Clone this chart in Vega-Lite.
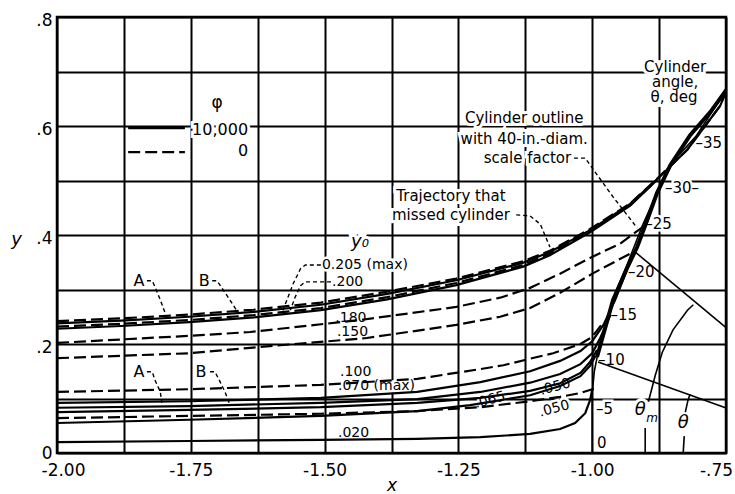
{
"$schema": "https://vega.github.io/schema/vega-lite/v6.json",
"width": 669, "height": 436,
"autosize": {"type": "none"},
"padding": {"left": 57, "top": 17, "right": 9, "bottom": 41},
"background": "white",
"config": {"view": {"stroke": "black", "strokeWidth": 2.5}, "font": "DejaVu Sans"},
"datasets": {
"lines": [
{"s":"B1","k":"dash","o":0,"x":-2.000,"y":0.242},{"s":"B1","k":"dash","o":1,"x":-1.880,"y":0.247},{"s":"B1","k":"dash","o":2,"x":-1.753,"y":0.254},{"s":"B1","k":"dash","o":3,"x":-1.632,"y":0.263},{"s":"B1","k":"dash","o":4,"x":-1.507,"y":0.276},{"s":"B1","k":"dash","o":5,"x":-1.383,"y":0.296},{"s":"B1","k":"dash","o":6,"x":-1.254,"y":0.320},{"s":"B1","k":"dash","o":7,"x":-1.129,"y":0.352},{"s":"B1","k":"dash","o":8,"x":-1.079,"y":0.371},{"s":"B1","k":"dash","o":9,"x":-1.004,"y":0.411},{"s":"B1","k":"dash","o":10,"x":-0.929,"y":0.458},{"s":"B1","k":"dash","o":11,"x":-0.879,"y":0.503},{"s":"B1","k":"dash","o":12,"x":-0.822,"y":0.557},{"s":"B1","k":"dash","o":13,"x":-0.761,"y":0.637},{"s":"B1","k":"dash","o":14,"x":-0.748,"y":0.668},
{"s":"B2","k":"solid","o":0,"x":-2.000,"y":0.238},{"s":"B2","k":"solid","o":1,"x":-1.880,"y":0.243},{"s":"B2","k":"solid","o":2,"x":-1.753,"y":0.250},{"s":"B2","k":"solid","o":3,"x":-1.632,"y":0.259},{"s":"B2","k":"solid","o":4,"x":-1.507,"y":0.272},{"s":"B2","k":"solid","o":5,"x":-1.383,"y":0.292},{"s":"B2","k":"solid","o":6,"x":-1.254,"y":0.317},{"s":"B2","k":"solid","o":7,"x":-1.129,"y":0.349},{"s":"B2","k":"solid","o":8,"x":-1.079,"y":0.369},{"s":"B2","k":"solid","o":9,"x":-1.004,"y":0.409},{"s":"B2","k":"solid","o":10,"x":-0.929,"y":0.457},{"s":"B2","k":"solid","o":11,"x":-0.879,"y":0.502},{"s":"B2","k":"solid","o":12,"x":-0.822,"y":0.557},{"s":"B2","k":"solid","o":13,"x":-0.761,"y":0.637},{"s":"B2","k":"solid","o":14,"x":-0.748,"y":0.668},
{"s":"B3","k":"dash","o":0,"x":-2.000,"y":0.232},{"s":"B3","k":"dash","o":1,"x":-1.880,"y":0.237},{"s":"B3","k":"dash","o":2,"x":-1.753,"y":0.244},{"s":"B3","k":"dash","o":3,"x":-1.632,"y":0.253},{"s":"B3","k":"dash","o":4,"x":-1.507,"y":0.266},{"s":"B3","k":"dash","o":5,"x":-1.383,"y":0.286},{"s":"B3","k":"dash","o":6,"x":-1.254,"y":0.312},{"s":"B3","k":"dash","o":7,"x":-1.129,"y":0.345},{"s":"B3","k":"dash","o":8,"x":-1.079,"y":0.366},{"s":"B3","k":"dash","o":9,"x":-1.004,"y":0.407},{"s":"B3","k":"dash","o":10,"x":-0.929,"y":0.455},{"s":"B3","k":"dash","o":11,"x":-0.879,"y":0.501},
{"s":"B4","k":"solid","o":0,"x":-2.000,"y":0.228},{"s":"B4","k":"solid","o":1,"x":-1.880,"y":0.233},{"s":"B4","k":"solid","o":2,"x":-1.753,"y":0.240},{"s":"B4","k":"solid","o":3,"x":-1.632,"y":0.249},{"s":"B4","k":"solid","o":4,"x":-1.507,"y":0.262},{"s":"B4","k":"solid","o":5,"x":-1.383,"y":0.282},{"s":"B4","k":"solid","o":6,"x":-1.254,"y":0.308},{"s":"B4","k":"solid","o":7,"x":-1.129,"y":0.342},{"s":"B4","k":"solid","o":8,"x":-1.079,"y":0.363},{"s":"B4","k":"solid","o":9,"x":-1.004,"y":0.405},{"s":"B4","k":"solid","o":10,"x":-0.929,"y":0.454},{"s":"B4","k":"solid","o":11,"x":-0.879,"y":0.501},
{"s":"D180","k":"dash","o":0,"x":-2.000,"y":0.202},{"s":"D180","k":"dash","o":1,"x":-1.753,"y":0.215},{"s":"D180","k":"dash","o":2,"x":-1.639,"y":0.222},{"s":"D180","k":"dash","o":3,"x":-1.434,"y":0.244},{"s":"D180","k":"dash","o":4,"x":-1.254,"y":0.268},{"s":"D180","k":"dash","o":5,"x":-1.172,"y":0.285},{"s":"D180","k":"dash","o":6,"x":-1.116,"y":0.303},{"s":"D180","k":"dash","o":7,"x":-1.060,"y":0.329},{"s":"D180","k":"dash","o":8,"x":-1.004,"y":0.358},{"s":"D180","k":"dash","o":9,"x":-0.948,"y":0.384},{"s":"D180","k":"dash","o":10,"x":-0.905,"y":0.415},
{"s":"D150","k":"dash","o":0,"x":-2.000,"y":0.174},{"s":"D150","k":"dash","o":1,"x":-1.753,"y":0.183},{"s":"D150","k":"dash","o":2,"x":-1.639,"y":0.193},{"s":"D150","k":"dash","o":3,"x":-1.421,"y":0.211},{"s":"D150","k":"dash","o":4,"x":-1.254,"y":0.235},{"s":"D150","k":"dash","o":5,"x":-1.172,"y":0.250},{"s":"D150","k":"dash","o":6,"x":-1.116,"y":0.266},{"s":"D150","k":"dash","o":7,"x":-1.060,"y":0.294},{"s":"D150","k":"dash","o":8,"x":-0.998,"y":0.330},{"s":"D150","k":"dash","o":9,"x":-0.921,"y":0.370},
{"s":"D100","k":"dash","o":0,"x":-2.000,"y":0.112},{"s":"D100","k":"dash","o":1,"x":-1.753,"y":0.117},{"s":"D100","k":"dash","o":2,"x":-1.507,"y":0.125},{"s":"D100","k":"dash","o":3,"x":-1.327,"y":0.136},{"s":"D100","k":"dash","o":4,"x":-1.209,"y":0.154},{"s":"D100","k":"dash","o":5,"x":-1.166,"y":0.161},{"s":"D100","k":"dash","o":6,"x":-1.116,"y":0.173},{"s":"D100","k":"dash","o":7,"x":-1.073,"y":0.183},{"s":"D100","k":"dash","o":8,"x":-1.022,"y":0.200},{"s":"D100","k":"dash","o":9,"x":-1.000,"y":0.213},{"s":"D100","k":"dash","o":10,"x":-0.983,"y":0.235},
{"s":"S070","k":"solid","o":0,"x":-2.000,"y":0.092},{"s":"S070","k":"solid","o":1,"x":-1.753,"y":0.095},{"s":"S070","k":"solid","o":2,"x":-1.507,"y":0.101},{"s":"S070","k":"solid","o":3,"x":-1.327,"y":0.112},{"s":"S070","k":"solid","o":4,"x":-1.209,"y":0.130},{"s":"S070","k":"solid","o":5,"x":-1.116,"y":0.150},{"s":"S070","k":"solid","o":6,"x":-1.060,"y":0.169},{"s":"S070","k":"solid","o":7,"x":-1.022,"y":0.187},{"s":"S070","k":"solid","o":8,"x":-1.000,"y":0.205},{"s":"S070","k":"solid","o":9,"x":-0.979,"y":0.235},{"s":"S070","k":"solid","o":10,"x":-0.957,"y":0.281},{"s":"S070","k":"solid","o":11,"x":-0.935,"y":0.336},
{"s":"S2","k":"solid","o":0,"x":-2.000,"y":0.083},{"s":"S2","k":"solid","o":1,"x":-1.753,"y":0.086},{"s":"S2","k":"solid","o":2,"x":-1.507,"y":0.092},{"s":"S2","k":"solid","o":3,"x":-1.327,"y":0.099},{"s":"S2","k":"solid","o":4,"x":-1.209,"y":0.112},{"s":"S2","k":"solid","o":5,"x":-1.116,"y":0.129},{"s":"S2","k":"solid","o":6,"x":-1.060,"y":0.145},{"s":"S2","k":"solid","o":7,"x":-1.022,"y":0.163},{"s":"S2","k":"solid","o":8,"x":-1.000,"y":0.183},{"s":"S2","k":"solid","o":9,"x":-0.985,"y":0.211},{"s":"S2","k":"solid","o":10,"x":-0.966,"y":0.253},
{"s":"S065","k":"solid","o":0,"x":-2.000,"y":0.075},{"s":"S065","k":"solid","o":1,"x":-1.753,"y":0.079},{"s":"S065","k":"solid","o":2,"x":-1.507,"y":0.084},{"s":"S065","k":"solid","o":3,"x":-1.327,"y":0.092},{"s":"S065","k":"solid","o":4,"x":-1.209,"y":0.101},{"s":"S065","k":"solid","o":5,"x":-1.116,"y":0.114},{"s":"S065","k":"solid","o":6,"x":-1.060,"y":0.128},{"s":"S065","k":"solid","o":7,"x":-1.022,"y":0.147},{"s":"S065","k":"solid","o":8,"x":-1.004,"y":0.167},{"s":"S065","k":"solid","o":9,"x":-0.991,"y":0.189},
{"s":"S050","k":"solid","o":0,"x":-2.000,"y":0.055},{"s":"S050","k":"solid","o":1,"x":-1.753,"y":0.061},{"s":"S050","k":"solid","o":2,"x":-1.507,"y":0.068},{"s":"S050","k":"solid","o":3,"x":-1.327,"y":0.077},{"s":"S050","k":"solid","o":4,"x":-1.228,"y":0.088},{"s":"S050","k":"solid","o":5,"x":-1.116,"y":0.106},{"s":"S050","k":"solid","o":6,"x":-1.060,"y":0.123},{"s":"S050","k":"solid","o":7,"x":-1.022,"y":0.141},{"s":"S050","k":"solid","o":8,"x":-1.004,"y":0.160},{"s":"S050","k":"solid","o":9,"x":-0.994,"y":0.178},
{"s":"D050","k":"dash","o":0,"x":-2.000,"y":0.064},{"s":"D050","k":"dash","o":1,"x":-1.753,"y":0.068},{"s":"D050","k":"dash","o":2,"x":-1.507,"y":0.072},{"s":"D050","k":"dash","o":3,"x":-1.327,"y":0.077},{"s":"D050","k":"dash","o":4,"x":-1.209,"y":0.084},{"s":"D050","k":"dash","o":5,"x":-1.116,"y":0.095},{"s":"D050","k":"dash","o":6,"x":-1.060,"y":0.103},{"s":"D050","k":"dash","o":7,"x":-1.022,"y":0.110},{"s":"D050","k":"dash","o":8,"x":-0.997,"y":0.118},
{"s":"S020","k":"solid","o":0,"x":-2.000,"y":0.020},{"s":"S020","k":"solid","o":1,"x":-1.753,"y":0.022},{"s":"S020","k":"solid","o":2,"x":-1.507,"y":0.024},{"s":"S020","k":"solid","o":3,"x":-1.327,"y":0.026},{"s":"S020","k":"solid","o":4,"x":-1.209,"y":0.029},{"s":"S020","k":"solid","o":5,"x":-1.116,"y":0.035},{"s":"S020","k":"solid","o":6,"x":-1.060,"y":0.044},{"s":"S020","k":"solid","o":7,"x":-1.032,"y":0.055},{"s":"S020","k":"solid","o":8,"x":-1.013,"y":0.073},{"s":"S020","k":"solid","o":9,"x":-1.004,"y":0.097},{"s":"S020","k":"solid","o":10,"x":-1.000,"y":0.116},
{"s":"LS","k":"solid","o":0,"x":-1.867,"y":0.596},{"s":"LS","k":"solid","o":1,"x":-1.761,"y":0.596},
{"s":"LD","k":"dash","o":0,"x":-1.867,"y":0.552},{"s":"LD","k":"dash","o":1,"x":-1.761,"y":0.552},
{"s":"C","k":"thin","o":0,"x":-1.000,"y":0.000},{"s":"C","k":"thin","o":1,"x":-1.000,"y":0.110},{"s":"C","k":"thin","o":2,"x":-0.996,"y":0.150},{"s":"C","k":"thin","o":3,"x":-0.990,"y":0.180},{"s":"C","k":"thin","o":4,"x":-0.976,"y":0.232},{"s":"C","k":"thin","o":5,"x":-0.957,"y":0.292},{"s":"C","k":"thin","o":6,"x":-0.935,"y":0.345},{"s":"C","k":"thin","o":7,"x":-0.906,"y":0.418},{"s":"C","k":"thin","o":8,"x":-0.879,"y":0.477},{"s":"C","k":"thin","o":9,"x":-0.849,"y":0.535},{"s":"C","k":"thin","o":10,"x":-0.807,"y":0.580},{"s":"C","k":"thin","o":11,"x":-0.780,"y":0.620},{"s":"C","k":"thin","o":12,"x":-0.748,"y":0.668},
{"s":"R1","k":"thin","o":0,"x":-0.989,"y":0.167},{"s":"R1","k":"thin","o":1,"x":-0.751,"y":0.083},
{"s":"R2","k":"thin","o":0,"x":-0.920,"y":0.369},{"s":"R2","k":"thin","o":1,"x":-0.751,"y":0.231},
{"s":"A1","k":"thin","o":0,"x":-0.901,"y":0.000},{"s":"A1","k":"thin","o":1,"x":-0.901,"y":0.046},
{"s":"A2","k":"thin","o":0,"x":-0.895,"y":0.094},{"s":"A2","k":"thin","o":1,"x":-0.882,"y":0.143},{"s":"A2","k":"thin","o":2,"x":-0.869,"y":0.185},{"s":"A2","k":"thin","o":3,"x":-0.849,"y":0.226},{"s":"A2","k":"thin","o":4,"x":-0.822,"y":0.262},{"s":"A2","k":"thin","o":5,"x":-0.811,"y":0.272},
{"s":"A3","k":"thin","o":0,"x":-0.830,"y":0.000},{"s":"A3","k":"thin","o":1,"x":-0.828,"y":0.031},
{"s":"A4","k":"thin","o":0,"x":-0.826,"y":0.075},{"s":"A4","k":"thin","o":1,"x":-0.821,"y":0.097},{"s":"A4","k":"thin","o":2,"x":-0.817,"y":0.108},
{"s":"T","k":"thick","o":0,"x":-0.991,"y":0.176},{"s":"T","k":"thick","o":1,"x":-0.961,"y":0.281},{"s":"T","k":"thick","o":2,"x":-0.935,"y":0.339},{"s":"T","k":"thick","o":3,"x":-0.916,"y":0.378},{"s":"T","k":"thick","o":4,"x":-0.897,"y":0.428},{"s":"T","k":"thick","o":5,"x":-0.879,"y":0.477},{"s":"T","k":"thick","o":6,"x":-0.854,"y":0.528},{"s":"T","k":"thick","o":7,"x":-0.817,"y":0.583},{"s":"T","k":"thick","o":8,"x":-0.779,"y":0.626},{"s":"T","k":"thick","o":9,"x":-0.748,"y":0.668},
{"s":"LA1","k":"lead","o":0,"x":-1.832,"y":0.316},{"s":"LA1","k":"lead","o":1,"x":-1.822,"y":0.316},{"s":"LA1","k":"lead","o":2,"x":-1.817,"y":0.305},{"s":"LA1","k":"lead","o":3,"x":-1.807,"y":0.281},{"s":"LA1","k":"lead","o":4,"x":-1.798,"y":0.257},
{"s":"LB1","k":"lead","o":0,"x":-1.710,"y":0.316},{"s":"LB1","k":"lead","o":1,"x":-1.701,"y":0.316},{"s":"LB1","k":"lead","o":2,"x":-1.692,"y":0.303},{"s":"LB1","k":"lead","o":3,"x":-1.677,"y":0.281},{"s":"LB1","k":"lead","o":4,"x":-1.664,"y":0.261},
{"s":"LA2","k":"lead","o":0,"x":-1.832,"y":0.149},{"s":"LA2","k":"lead","o":1,"x":-1.822,"y":0.149},{"s":"LA2","k":"lead","o":2,"x":-1.817,"y":0.134},{"s":"LA2","k":"lead","o":3,"x":-1.807,"y":0.112},{"s":"LA2","k":"lead","o":4,"x":-1.804,"y":0.092},
{"s":"LB2","k":"lead","o":0,"x":-1.714,"y":0.149},{"s":"LB2","k":"lead","o":1,"x":-1.705,"y":0.149},{"s":"LB2","k":"lead","o":2,"x":-1.699,"y":0.138},{"s":"LB2","k":"lead","o":3,"x":-1.686,"y":0.112},{"s":"LB2","k":"lead","o":4,"x":-1.677,"y":0.088},
{"s":"L205","k":"lead","o":0,"x":-1.507,"y":0.345},{"s":"L205","k":"lead","o":1,"x":-1.536,"y":0.345},{"s":"L205","k":"lead","o":2,"x":-1.545,"y":0.338},{"s":"L205","k":"lead","o":3,"x":-1.559,"y":0.310},{"s":"L205","k":"lead","o":4,"x":-1.579,"y":0.259},
{"s":"L200","k":"lead","o":0,"x":-1.488,"y":0.314},{"s":"L200","k":"lead","o":1,"x":-1.536,"y":0.314},{"s":"L200","k":"lead","o":2,"x":-1.545,"y":0.307},{"s":"L200","k":"lead","o":3,"x":-1.555,"y":0.286},{"s":"L200","k":"lead","o":4,"x":-1.564,"y":0.262},
{"s":"LCY","k":"lead","o":0,"x":-1.034,"y":0.541},{"s":"LCY","k":"lead","o":1,"x":-1.013,"y":0.541},{"s":"LCY","k":"lead","o":2,"x":-1.000,"y":0.523},{"s":"LCY","k":"lead","o":3,"x":-0.961,"y":0.470},{"s":"LCY","k":"lead","o":4,"x":-0.916,"y":0.413},
{"s":"LTR","k":"lead","o":0,"x":-1.142,"y":0.437},{"s":"LTR","k":"lead","o":1,"x":-1.116,"y":0.435},{"s":"LTR","k":"lead","o":2,"x":-1.097,"y":0.420},{"s":"LTR","k":"lead","o":3,"x":-1.079,"y":0.378}
],
"labels": [
{"g":"ann","t":"Cylinder","x":-0.845,"y":0.708},{"g":"ann","t":"angle,","x":-0.845,"y":0.680},{"g":"ann","t":"θ, deg","x":-0.847,"y":0.654},
{"g":"ann","t":"Cylinder outline","x":-1.127,"y":0.615},{"g":"ann","t":"with 40-in.-diam.","x":-1.127,"y":0.576},{"g":"ann","t":"scale factor","x":-1.121,"y":0.541},
{"g":"ann","t":"Trajectory that","x":-1.264,"y":0.472},{"g":"ann","t":"missed cylinder","x":-1.264,"y":0.437},
{"g":"num","t":"0.205 (max)","x":-1.505,"y":0.345},{"g":"num","t":".200","x":-1.486,"y":0.314},{"g":"num","t":".180","x":-1.480,"y":0.248},{"g":"num","t":".150","x":-1.477,"y":0.222},{"g":"num","t":".100","x":-1.471,"y":0.149},{"g":"num","t":".070 (max)","x":-1.475,"y":0.123},{"g":"num","t":".020","x":-1.475,"y":0.037},
{"g":"rot","t":".065","x":-1.191,"y":0.097},{"g":"rot","t":".050","x":-1.069,"y":0.121},{"g":"rot","t":".050","x":-1.071,"y":0.081},
{"g":"ang","t":"–5","x":-0.993,"y":0.081},{"g":"ang","t":"–10","x":-0.989,"y":0.171},{"g":"ang","t":"–15","x":-0.966,"y":0.253},{"g":"ang","t":"–20","x":-0.933,"y":0.333},{"g":"ang","t":"–25","x":-0.901,"y":0.420},{"g":"ang","t":"–30–","x":-0.864,"y":0.486},{"g":"ang","t":"–35","x":-0.807,"y":0.569},{"g":"ang","t":"0","x":-0.991,"y":0.018},
{"g":"leg","t":"10,000","x":-1.643,"y":0.593},{"g":"leg","t":"0","x":-1.643,"y":0.554},
{"g":"legc","t":"φ","x":-1.701,"y":0.642},
{"g":"ital","t":"y₀","x":-1.434,"y":0.387},{"g":"ital","t":"θ","x":-0.830,"y":0.055},{"g":"ital","t":"θ","x":-0.910,"y":0.079},
{"g":"sub","t":"m","x":-0.888,"y":0.064},
{"g":"AB","t":"A","x":-1.847,"y":0.316},{"g":"AB","t":"B","x":-1.725,"y":0.316},{"g":"AB","t":"A","x":-1.847,"y":0.149},{"g":"AB","t":"B","x":-1.731,"y":0.149}
]
},
"encoding": {
"x": {"field": "x", "type": "quantitative",
 "scale": {"domain": [-2, -0.75], "nice": false, "zero": false},
 "axis": {"values": [-2,-1.875,-1.75,-1.625,-1.5,-1.375,-1.25,-1.125,-1,-0.875,-0.75],
  "labelExpr": "datum.value > -0.76 ? '-.75' : (abs(datum.value*4 - round(datum.value*4)) < 0.01 ? '-' + format(abs(datum.value), '.2f') : '')",
  "grid": true, "gridColor": "black", "gridWidth": 2, "gridOpacity": 1,
  "domain": false, "ticks": false, "labelFontSize": 17, "labelColor": "black", "labelPadding": 9,
  "labelFlush": false, "labelOverlap": false,
  "labelOffset": {"condition": [{"test": "datum.value > -0.76", "value": -10}, {"test": "datum.value < -1.99", "value": 6}], "value": 0},
  "title": "x", "titleFontStyle": "italic", "titleFontWeight": "normal", "titleFontSize": 17, "titleColor": "black", "titlePadding": -1}},
"y": {"field": "y", "type": "quantitative",
 "scale": {"domain": [0, 0.8], "nice": false, "zero": false},
 "axis": {"values": [0,0.1,0.2,0.3,0.4,0.5,0.6,0.7,0.8],
  "labelExpr": "datum.value < 0.01 ? '0' : (round(datum.value*10) % 2 == 0 ? '.' + round(datum.value*10) : '')",
  "grid": true, "gridColor": "black", "gridWidth": 2, "gridOpacity": 1,
  "domain": false, "ticks": false, "labelFontSize": 17, "labelColor": "black", "labelPadding": 5,
  "labelOffset": {"condition": {"test": "datum.value < 0.01", "value": 0}, "value": 3},
  "labelOverlap": false, "labelFlush": false,
  "title": "y", "titleAngle": 0, "titleFontStyle": "italic", "titleFontWeight": "normal", "titleFontSize": 18, "titleColor": "black",
  "titleX": -41, "titleY": 222, "titleAlign": "center", "titleBaseline": "middle"}}
},
"layer": [
{"data": {"name": "labels"}, "transform": [{"filter": "datum.g == 'ann'"}], "mark": {"type": "text", "align": "center", "baseline": "middle", "fontSize": 15, "color": "white", "stroke": "white", "strokeWidth": 6}, "encoding": {"text": {"field": "t"}}},
{"data": {"name": "labels"}, "transform": [{"filter": "datum.g == 'num'"}], "mark": {"type": "text", "align": "left", "baseline": "middle", "fontSize": 14, "color": "white", "stroke": "white", "strokeWidth": 5}, "encoding": {"text": {"field": "t"}}},
{"data": {"name": "labels"}, "transform": [{"filter": "datum.g == 'rot'"}], "mark": {"type": "text", "align": "center", "baseline": "middle", "fontSize": 14, "angle": 345, "color": "white", "stroke": "white", "strokeWidth": 5}, "encoding": {"text": {"field": "t"}}},
{"data": {"name": "labels"}, "transform": [{"filter": "datum.g == 'ang'"}], "mark": {"type": "text", "align": "left", "baseline": "middle", "fontSize": 15, "color": "white", "stroke": "white", "strokeWidth": 5}, "encoding": {"text": {"field": "t"}}},
{"data": {"name": "labels"}, "transform": [{"filter": "datum.g == 'leg'"}], "mark": {"type": "text", "align": "right", "baseline": "middle", "fontSize": 16, "color": "white", "stroke": "white", "strokeWidth": 6}, "encoding": {"text": {"field": "t"}}},
{"data": {"name": "labels"}, "transform": [{"filter": "datum.g == 'legc'"}], "mark": {"type": "text", "align": "center", "baseline": "middle", "fontSize": 17, "color": "white", "stroke": "white", "strokeWidth": 6}, "encoding": {"text": {"field": "t"}}},
{"data": {"name": "labels"}, "transform": [{"filter": "datum.g == 'ital'"}], "mark": {"type": "text", "align": "center", "baseline": "middle", "fontSize": 18, "fontStyle": "italic", "color": "white", "stroke": "white", "strokeWidth": 6}, "encoding": {"text": {"field": "t"}}},
{"data": {"name": "labels"}, "transform": [{"filter": "datum.g == 'AB'"}], "mark": {"type": "text", "align": "center", "baseline": "middle", "fontSize": 16, "color": "white", "stroke": "white", "strokeWidth": 6}, "encoding": {"text": {"field": "t"}}},
{"data": {"name": "lines"}, "transform": [{"filter": "datum.k == 'thin'"}], "mark": {"type": "line", "color": "black", "strokeWidth": 1.6, "clip": true}, "encoding": {"detail": {"field": "s"}, "order": {"field": "o"}}},
{"data": {"name": "lines"}, "transform": [{"filter": "datum.k == 'solid'"}], "mark": {"type": "line", "color": "black", "strokeWidth": 2.2, "clip": true}, "encoding": {"detail": {"field": "s"}, "order": {"field": "o"}}},
{"data": {"name": "lines"}, "transform": [{"filter": "datum.k == 'dash'"}], "mark": {"type": "line", "color": "black", "strokeWidth": 2.2, "strokeDash": [12, 5], "clip": true}, "encoding": {"detail": {"field": "s"}, "order": {"field": "o"}}},
{"data": {"name": "lines"}, "transform": [{"filter": "datum.k == 'thick'"}], "mark": {"type": "line", "color": "black", "strokeWidth": 4, "clip": true}, "encoding": {"detail": {"field": "s"}, "order": {"field": "o"}}},
{"data": {"name": "lines"}, "transform": [{"filter": "datum.k == 'lead'"}], "mark": {"type": "line", "color": "black", "strokeWidth": 1.4, "strokeDash": [4, 3], "clip": true}, "encoding": {"detail": {"field": "s"}, "order": {"field": "o"}}},
{"data": {"name": "labels"}, "transform": [{"filter": "datum.g == 'ann'"}], "mark": {"type": "text", "align": "center", "baseline": "middle", "fontSize": 15, "color": "black"}, "encoding": {"text": {"field": "t"}}},
{"data": {"name": "labels"}, "transform": [{"filter": "datum.g == 'num'"}], "mark": {"type": "text", "align": "left", "baseline": "middle", "fontSize": 14, "color": "black"}, "encoding": {"text": {"field": "t"}}},
{"data": {"name": "labels"}, "transform": [{"filter": "datum.g == 'rot'"}], "mark": {"type": "text", "align": "center", "baseline": "middle", "fontSize": 14, "angle": 345, "color": "black"}, "encoding": {"text": {"field": "t"}}},
{"data": {"name": "labels"}, "transform": [{"filter": "datum.g == 'ang'"}], "mark": {"type": "text", "align": "left", "baseline": "middle", "fontSize": 15, "color": "black"}, "encoding": {"text": {"field": "t"}}},
{"data": {"name": "labels"}, "transform": [{"filter": "datum.g == 'leg'"}], "mark": {"type": "text", "align": "right", "baseline": "middle", "fontSize": 16, "color": "black"}, "encoding": {"text": {"field": "t"}}},
{"data": {"name": "labels"}, "transform": [{"filter": "datum.g == 'legc'"}], "mark": {"type": "text", "align": "center", "baseline": "middle", "fontSize": 17, "color": "black"}, "encoding": {"text": {"field": "t"}}},
{"data": {"name": "labels"}, "transform": [{"filter": "datum.g == 'ital'"}], "mark": {"type": "text", "align": "center", "baseline": "middle", "fontSize": 18, "fontStyle": "italic", "color": "black"}, "encoding": {"text": {"field": "t"}}},
{"data": {"name": "labels"}, "transform": [{"filter": "datum.g == 'sub'"}], "mark": {"type": "text", "align": "center", "baseline": "middle", "fontSize": 12, "fontStyle": "italic", "color": "black"}, "encoding": {"text": {"field": "t"}}},
{"data": {"name": "labels"}, "transform": [{"filter": "datum.g == 'AB'"}], "mark": {"type": "text", "align": "center", "baseline": "middle", "fontSize": 16, "color": "black"}, "encoding": {"text": {"field": "t"}}}
]
}
